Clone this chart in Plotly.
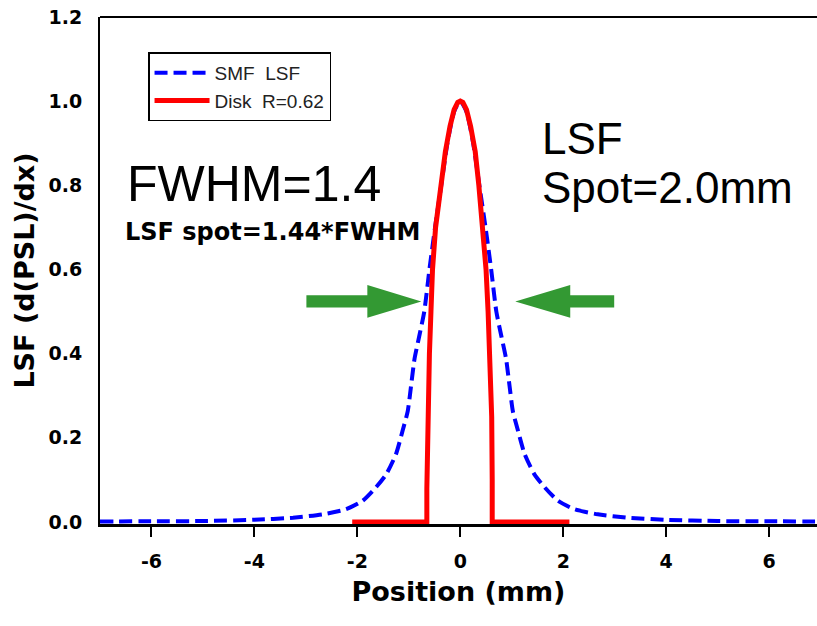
import plotly.graph_objects as go

# Line spread functions: measured SMF LSF and a projected disk of radius 0.62 mm
smf_x = [-7.0, -6.0, -5.0, -4.0, -3.25, -2.67, -2.22, -1.9, -1.64, -1.44, -1.25,
         -1.12, -1.02, -0.96, -0.89, -0.8, -0.7, -0.6, -0.49, -0.37, -0.25, -0.12,
         0.0,
         0.12, 0.25, 0.37, 0.49, 0.6, 0.7, 0.8, 0.89, 0.96, 1.02, 1.12, 1.25, 1.44,
         1.64, 1.9, 2.22, 2.67, 3.25, 4.0, 5.0, 6.0, 7.0]
smf_y = [0.001, 0.0015, 0.002, 0.005, 0.010, 0.018, 0.030, 0.05, 0.082, 0.113, 0.161,
         0.217, 0.264, 0.32, 0.387, 0.44, 0.5, 0.6, 0.7, 0.8, 0.9, 0.975,
         1.0,
         0.975, 0.9, 0.8, 0.7, 0.6, 0.5, 0.44, 0.387, 0.32, 0.264, 0.217, 0.161, 0.113,
         0.082, 0.05, 0.030, 0.018, 0.010, 0.005, 0.002, 0.0015, 0.001]

disk_x = [-2.1, -0.65, -0.65, -0.64, -0.62, -0.6, -0.57, -0.54, -0.48, -0.42, -0.36,
          -0.29, -0.2, -0.12, -0.05, 0.0, 0.05, 0.12, 0.2, 0.29, 0.36, 0.43, 0.5,
          0.54, 0.57, 0.6, 0.61, 0.62, 0.62, 2.12]
disk_y = [0.0, 0.0, 0.08, 0.18, 0.3, 0.4, 0.5, 0.6, 0.7, 0.76, 0.82,
          0.88, 0.94, 0.98, 0.997, 1.0, 0.997, 0.98, 0.94, 0.88, 0.8, 0.7, 0.6,
          0.5, 0.42, 0.33, 0.25, 0.1, 0.0, 0.0]

x_ticks = [-6, -4, -2, 0, 2, 4, 6]
y_ticks = [0.0, 0.2, 0.4, 0.6, 0.8, 1.0, 1.2]

series_names = ["SMF  LSF", "Disk  R=0.62"]

GREEN = "#339933"
AXFONT = dict(family="DejaVu Sans", size=19, color="black", weight="bold")
TITLEFONT = dict(family="DejaVu Sans", size=27, color="black", weight="bold")

fig = go.Figure()
fig.add_trace(go.Scatter(
    x=smf_x, y=smf_y, mode="lines", name=series_names[0],
    line=dict(color="#0000ff", width=4, dash="13px,6px", shape="spline", smoothing=0.6),
))
fig.add_trace(go.Scatter(
    x=disk_x, y=disk_y, mode="lines", name=series_names[1],
    line=dict(color="#ff0000", width=5),
))

# Green arrows marking the half-maximum width
def arrow_path(x_tail, x_base, x_tip, yc, shaft_half, head_half):
    return (f"M {x_tail},{yc - shaft_half} L {x_base},{yc - shaft_half} "
            f"L {x_base},{yc - head_half} L {x_tip},{yc} L {x_base},{yc + head_half} "
            f"L {x_base},{yc + shaft_half} L {x_tail},{yc + shaft_half} Z")

yc = 0.524
for tail, base, tip in [(-2.99, -1.806, -0.757), (2.99, 2.136, 1.068)]:
    fig.add_shape(type="path", xref="x", yref="y",
                  path=arrow_path(tail, base, tip, yc, 0.0145, 0.039),
                  fillcolor=GREEN, line=dict(width=0), layer="above")

# top frame line
fig.add_shape(type="line", xref="paper", yref="paper", x0=0, x1=1, y0=1, y1=1,
              line=dict(color="black", width=2))

fig.add_annotation(x=-6.52, y=0.802, xref="x", yref="y", text="FWHM=1.4",
                   showarrow=False, xanchor="left", yanchor="middle",
                   font=dict(family="Liberation Sans", size=50, color="black"))
fig.add_annotation(x=-6.56, y=0.689, xref="x", yref="y", text="LSF spot=1.44*FWHM",
                   showarrow=False, xanchor="left", yanchor="middle",
                   font=dict(family="DejaVu Sans", size=24, color="black", weight="bold"))
fig.add_annotation(x=1.55, y=0.912, xref="x", yref="y", text="LSF",
                   showarrow=False, xanchor="left", yanchor="middle",
                   font=dict(family="Liberation Sans", size=44, color="black"))
fig.add_annotation(x=1.55, y=0.795, xref="x", yref="y", text="Spot=2.0mm",
                   showarrow=False, xanchor="left", yanchor="middle",
                   font=dict(family="Liberation Sans", size=44, color="black"))

fig.update_layout(
    width=817, height=626,
    margin=dict(l=100, r=0, t=17, b=102),
    paper_bgcolor="white", plot_bgcolor="white",
    showlegend=True,
    legend=dict(
        x=0.067, y=0.93, xanchor="left", yanchor="top",
        bgcolor="white", bordercolor="black", borderwidth=1.5,
        font=dict(family="Liberation Sans", size=19, color="#222222"),
        itemwidth=55, tracegroupgap=0,
    ),
)
fig.update_xaxes(
    range=[-7, 6.93], tickvals=x_ticks, ticktext=[str(v) for v in x_ticks],
    showgrid=False, zeroline=False, showline=True, linecolor="black", linewidth=3,
    ticks="outside", ticklen=10, tickwidth=2, tickcolor="black",
    tickfont=AXFONT, ticklabelstandoff=8,
    title=dict(text="Position (mm)", font=TITLEFONT, standoff=12),
)
fig.update_yaxes(
    range=[-0.005, 1.2], tickvals=y_ticks, ticktext=[f"{v:.1f}" for v in y_ticks],
    showgrid=False, zeroline=False, showline=True, linecolor="black", linewidth=2,
    ticks="", tickfont=AXFONT, ticklabelstandoff=12,
    title=dict(text="LSF (d(PSL)/dx)", font=TITLEFONT, standoff=6),
)

fig.write_html("out.html")
